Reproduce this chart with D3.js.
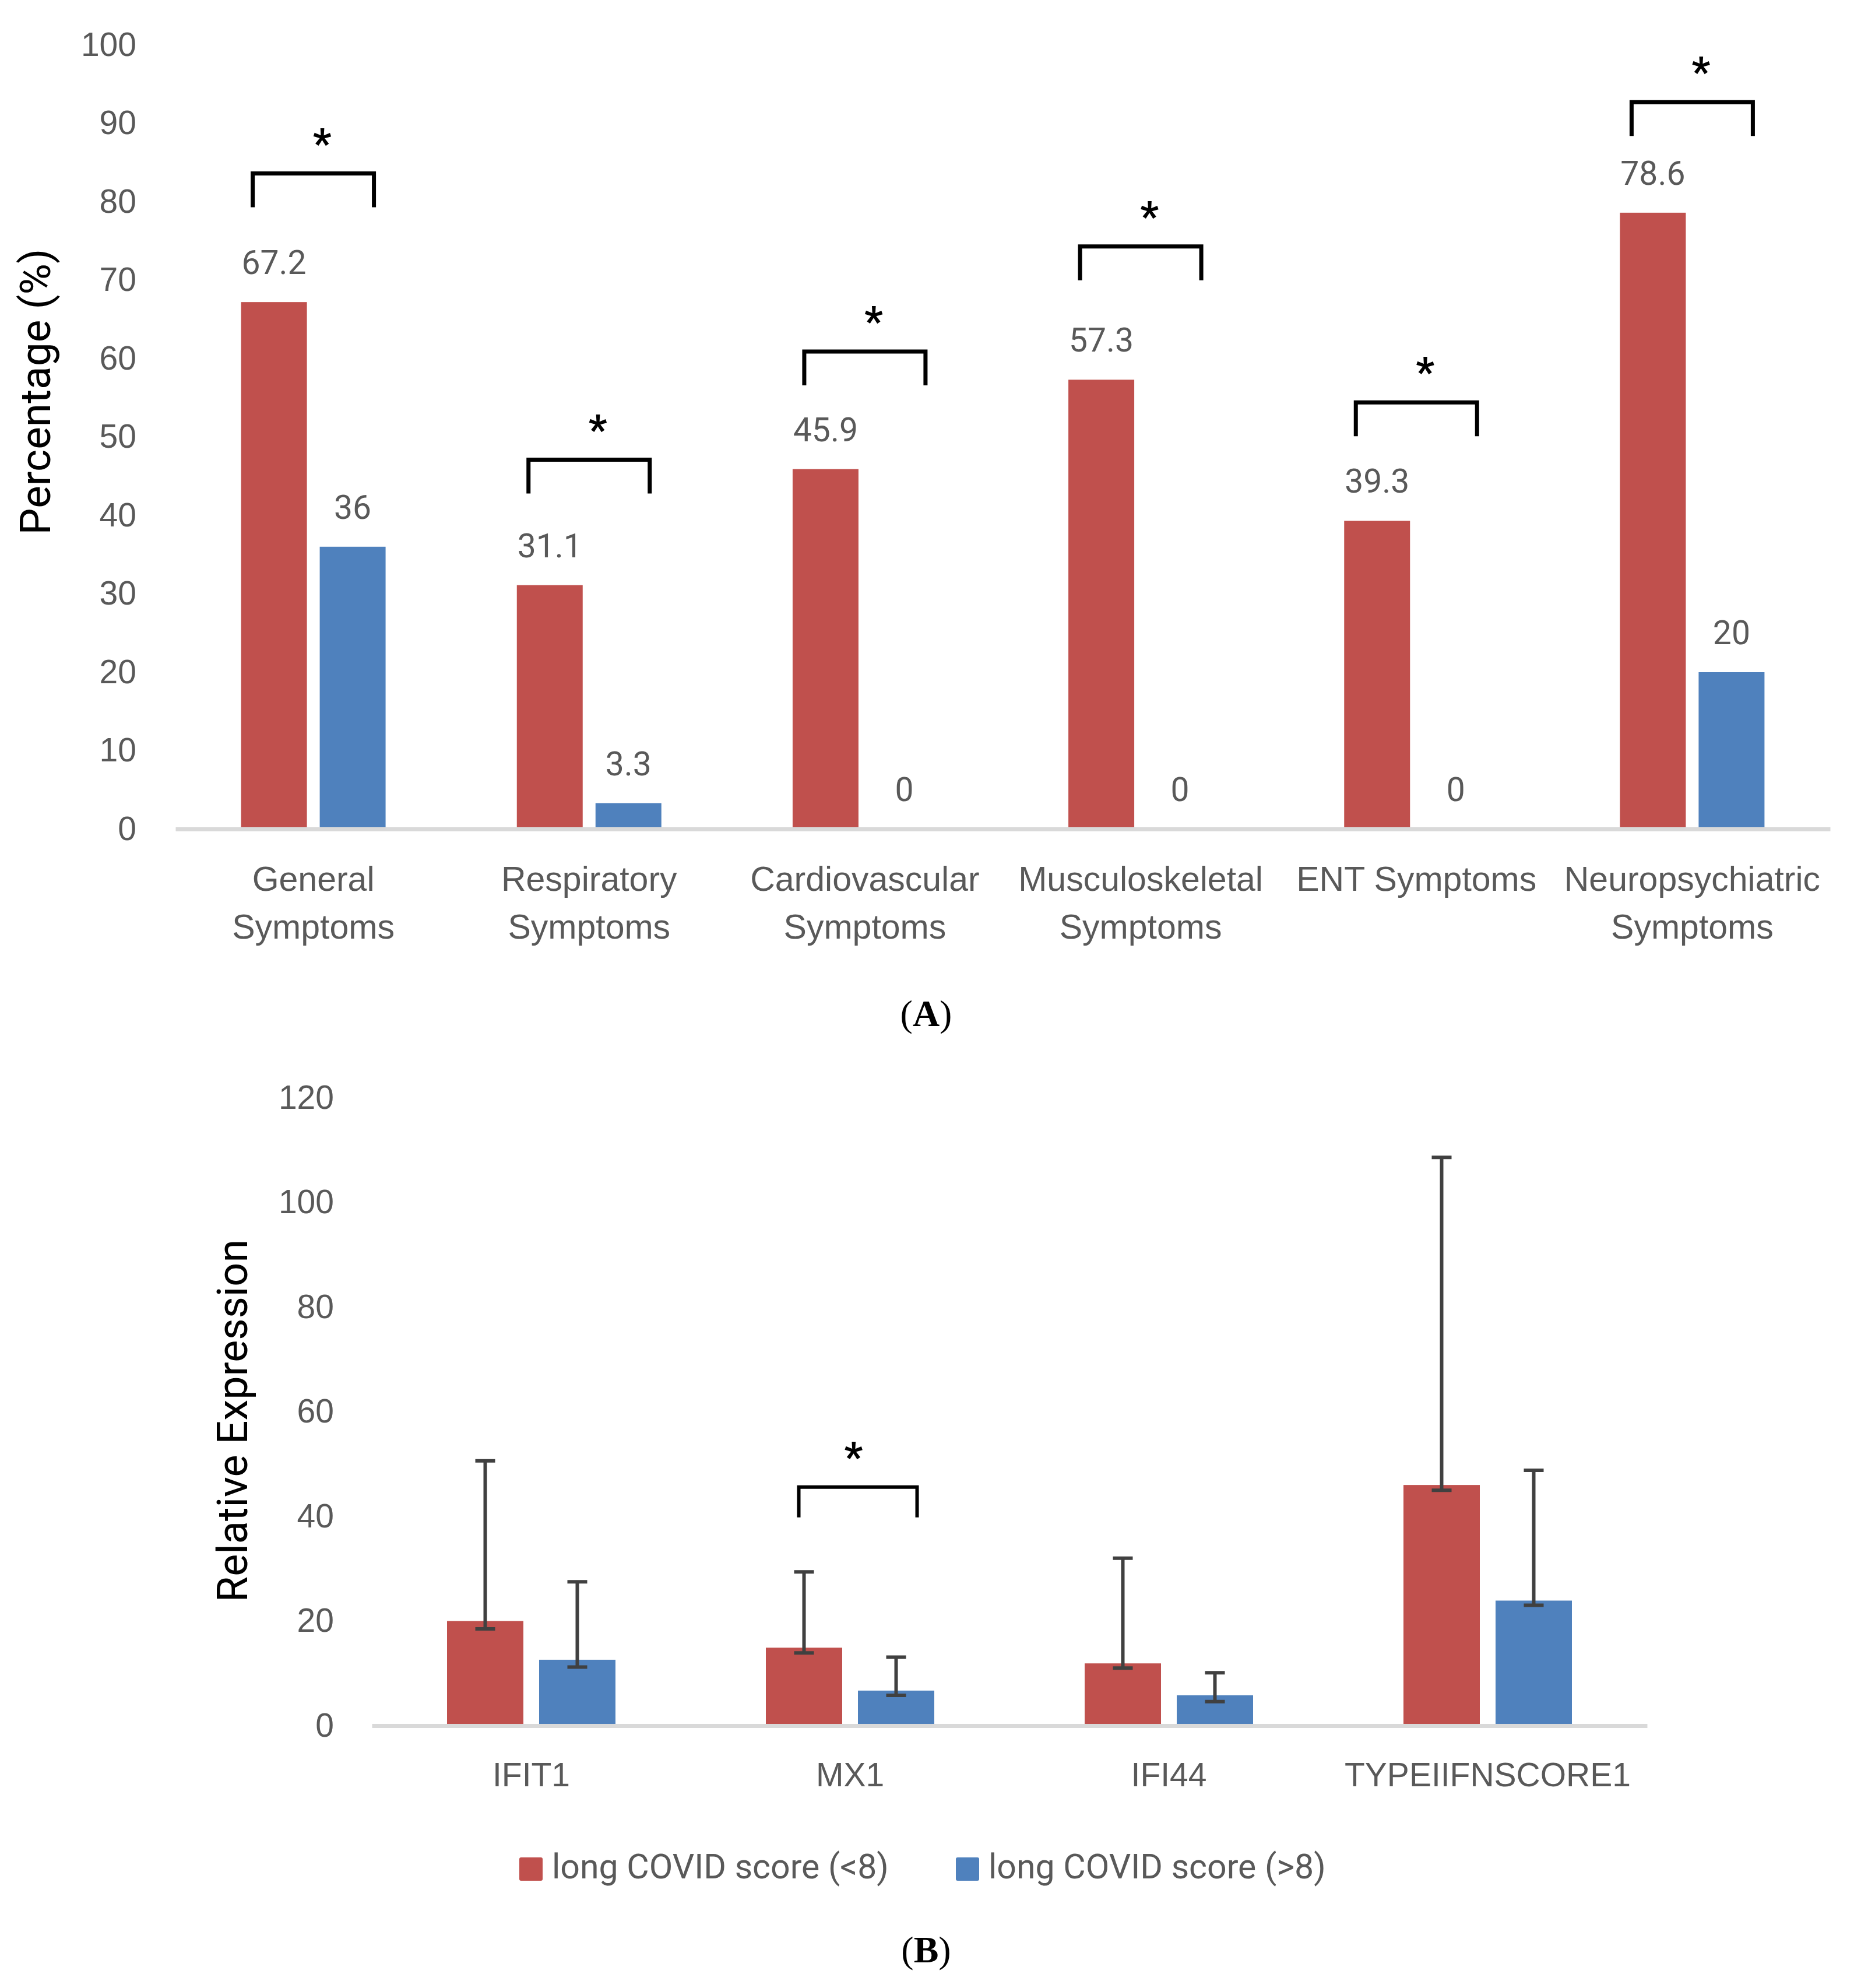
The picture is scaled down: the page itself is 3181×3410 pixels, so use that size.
<!DOCTYPE html>
<html>
<head>
<meta charset="UTF-8">
<title>long COVID symptoms / IFN expression</title>
<script src="https://cdn.jsdelivr.net/npm/d3@7"></script>
<style>
    body { margin: 0; background: #fff; }
    svg { display: block; font-family: Roboto, "Open Sans", sans-serif; }
    .tick text, .cat, .val, .leg text { fill: #595959; }
    .title { fill: #000; }
</style>
</head>
<body>
<svg id="fig" width="3181" height="3410"></svg>
<script>
// ---------- data, panel A
const seriesNames = ["long COVID score (<8)", "long COVID score (>8)"];
const seriesColors = ["#C0504D", "#4F81BD"];

const symptomCats = ["General\nSymptoms", "Respiratory\nSymptoms", "Cardiovascular\nSymptoms",
                     "Musculoskeletal\nSymptoms", "ENT Symptoms", "Neuropsychiatric\nSymptoms"];
const pctLow  = [67.2, 31.1, 45.9, 57.3, 39.3, 78.6];
const pctHigh = [36, 3.3, 0, 0, 0, 20];
const sigHeightA = [83.6, 47.1, 60.9, 74.3, 54.4, 92.7];   // bracket level, in %
const pctTicks = d3.range(0, 101, 10);

// ---------- data, panel B
const genes = ["IFIT1", "MX1", "IFI44", "TYPEIIFNSCORE1"];
const exprLow  = [20.0, 14.9, 11.9, 46.0];
const exprHigh = [12.6, 6.7, 5.8, 23.9];
const errPlusLow   = [30.6, 14.5, 20.1, 62.6];
const errPlusHigh  = [14.9, 6.4, 4.3, 24.9];
const errMinusLow  = [1.5, 1.0, 0.9, 1.0];
const errMinusHigh = [1.4, 0.9, 1.2, 0.9];
const sigB = [{ gene: "MX1", level: 45.6 }];
const exprTicks = d3.range(0, 121, 20);

const svg = d3.select("#fig");
svg.append("rect").attr("width", 3181).attr("height", 3410).attr("fill", "#fff");

function star(g, x, top) {
    g.append("text")
        .attr("x", x).attr("y", top - 28)
        .attr("text-anchor", "middle")
        .attr("font-size", 70).attr("font-weight", "bold")
        .attr("fill", "#000")
        .text("*");
}

function bracket(g, x0, x1, top, legs, width) {
    g.append("path")
        .attr("d", `M${x0},${top + legs}V${top}H${x1}V${top + legs}`)
        .attr("fill", "none").attr("stroke", "#000")
        .attr("stroke-width", width).attr("stroke-linejoin", "miter");
}

// ================= panel A
(function () {
    const g = svg.append("g");
    const x = d3.scaleBand().domain(symptomCats).range([301, 3140]);
    const sub = d3.scaleBand().domain(seriesNames).range([0, x.bandwidth()])
        .paddingInner(0.163).paddingOuter(0.834);
    const y = d3.scaleLinear().domain([0, 100]).range([1422, 77]);

    const rows = symptomCats.map((c, i) => ({ cat: c, vals: [pctLow[i], pctHigh[i]], sig: sigHeightA[i] }));

    const grp = g.selectAll(".grp").data(rows).join("g")
        .attr("transform", d => `translate(${x(d.cat)},0)`);

    grp.selectAll("rect").data(d => d.vals.map((v, k) => ({ v, k })).filter(e => e.v > 0)).join("rect")
        .attr("x", e => sub(seriesNames[e.k]))
        .attr("width", sub.bandwidth())
        .attr("y", e => y(e.v))
        .attr("height", e => y(0) - y(e.v))
        .attr("fill", e => seriesColors[e.k]);

    grp.selectAll(".val").data(d => d.vals.map((v, k) => ({ v, k }))).join("text")
        .attr("class", "val")
        .attr("x", e => sub(seriesNames[e.k]) + sub.bandwidth() / 2)
        .attr("y", e => y(e.v) - 48)
        .attr("text-anchor", "middle")
        .attr("font-size", 57)
        .text(e => e.v);

    // significance brackets
    rows.forEach(d => {
        const cx = x(d.cat) + x.bandwidth() / 2;
        const top = y(d.sig);
        bracket(g, cx - 104, cx + 104, top, 58, 7);
        star(g, cx + 15, top);
    });

    // axes
    const gy = g.append("g").attr("transform", "translate(301,0)")
        .call(d3.axisLeft(y).tickValues(pctTicks).tickSize(0).tickPadding(67));
    gy.select(".domain").remove();
    gy.selectAll(".tick text").attr("font-size", 57).attr("font-family", null);

    const gx = g.append("g").attr("transform", "translate(0,1422)")
        .call(d3.axisBottom(x).tickSize(0).tickSizeOuter(0));
    gx.select(".domain").attr("stroke", "#d9d9d9").attr("stroke-width", 7);
    gx.selectAll(".tick text").each(function (d) {
        const t = d3.select(this).attr("dy", null).attr("y", 106)
            .attr("font-size", 59).attr("font-family", null).text(null);
        d.split("\n").forEach((line, i) => {
            t.append("tspan").attr("x", 0).attr("y", 106 + i * 82).text(line);
        });
    });

    g.append("text").attr("class", "title")
        .attr("transform", "translate(86,672) rotate(-90)")
        .attr("text-anchor", "middle").attr("font-size", 73)
        .text("Percentage (%)");

    const lab = g.append("text").attr("x", 1589).attr("y", 1760)
        .attr("text-anchor", "middle").attr("font-size", 64)
        .attr("font-family", "'Liberation Serif', 'DejaVu Serif', serif").attr("fill", "#000");
    lab.append("tspan").text("(");
    lab.append("tspan").attr("font-weight", "bold").text("A");
    lab.append("tspan").text(")");
})();

// ================= panel B
(function () {
    const g = svg.append("g");
    const x = d3.scaleBand().domain(genes).range([638, 2826]);
    const sub = d3.scaleBand().domain(seriesNames).range([0, x.bandwidth()])
        .paddingInner(0.171).paddingOuter(0.8165);
    const y = d3.scaleLinear().domain([0, 120]).range([2960, 1883]);

    const rows = genes.map((gn, i) => ({
        gene: gn,
        bars: [
            { k: 0, v: exprLow[i], up: errPlusLow[i], dn: errMinusLow[i] },
            { k: 1, v: exprHigh[i], up: errPlusHigh[i], dn: errMinusHigh[i] }
        ]
    }));

    const grp = g.selectAll(".grp").data(rows).join("g")
        .attr("transform", d => `translate(${x(d.gene)},0)`);

    grp.selectAll("rect").data(d => d.bars).join("rect")
        .attr("x", e => sub(seriesNames[e.k]))
        .attr("width", sub.bandwidth())
        .attr("y", e => y(e.v))
        .attr("height", e => y(0) - y(e.v))
        .attr("fill", e => seriesColors[e.k]);

    // error bars
    const eb = grp.selectAll(".err").data(d => d.bars).join("g")
        .attr("transform", e => `translate(${sub(seriesNames[e.k]) + sub.bandwidth() / 2},0)`)
        .attr("stroke", "#404040").attr("stroke-width", 6);
    eb.append("line").attr("y1", e => y(e.v - e.dn)).attr("y2", e => y(e.v + e.up));
    eb.append("line").attr("x1", -17).attr("x2", 17)
        .attr("y1", e => y(e.v + e.up)).attr("y2", e => y(e.v + e.up));
    eb.append("line").attr("x1", -17).attr("x2", 17)
        .attr("y1", e => y(e.v - e.dn)).attr("y2", e => y(e.v - e.dn));

    sigB.forEach(s => {
        const cx = x(s.gene) + x.bandwidth() / 2;
        const top = y(s.level);
        bracket(g, cx - 88, cx + 115, top, 52, 6);
        star(g, cx + 6, top);
    });

    const gy = g.append("g").attr("transform", "translate(638,0)")
        .call(d3.axisLeft(y).tickValues(exprTicks).tickSize(0).tickPadding(65));
    gy.select(".domain").remove();
    gy.selectAll(".tick text").attr("font-size", 57).attr("font-family", null);

    const gx = g.append("g").attr("transform", "translate(0,2960)")
        .call(d3.axisBottom(x).tickSize(0).tickSizeOuter(0));
    gx.select(".domain").attr("stroke", "#d9d9d9").attr("stroke-width", 7);
    gx.selectAll(".tick text").attr("dy", null).attr("y", 104)
        .attr("font-size", 57).attr("font-family", null);

    g.append("text").attr("class", "title")
        .attr("transform", "translate(424,2437) rotate(-90)")
        .attr("text-anchor", "middle").attr("font-size", 72)
        .text("Relative Expression");

    // legend
    const legX = [891, 1640];
    const leg = g.selectAll(".leg").data(seriesNames).join("g")
        .attr("class", "leg")
        .attr("transform", (d, i) => `translate(${legX[i]},3186)`);
    leg.append("rect").attr("width", 40).attr("height", 40).attr("rx", 3)
        .attr("fill", (d, i) => seriesColors[i]);
    leg.append("text").attr("x", 56).attr("y", 36).attr("font-size", 59).text(d => d);

    const lab = g.append("text").attr("x", 1589).attr("y", 3366)
        .attr("text-anchor", "middle").attr("font-size", 64)
        .attr("font-family", "'Liberation Serif', 'DejaVu Serif', serif").attr("fill", "#000");
    lab.append("tspan").text("(");
    lab.append("tspan").attr("font-weight", "bold").text("B");
    lab.append("tspan").text(")");
})();
</script>
</body>
</html>
